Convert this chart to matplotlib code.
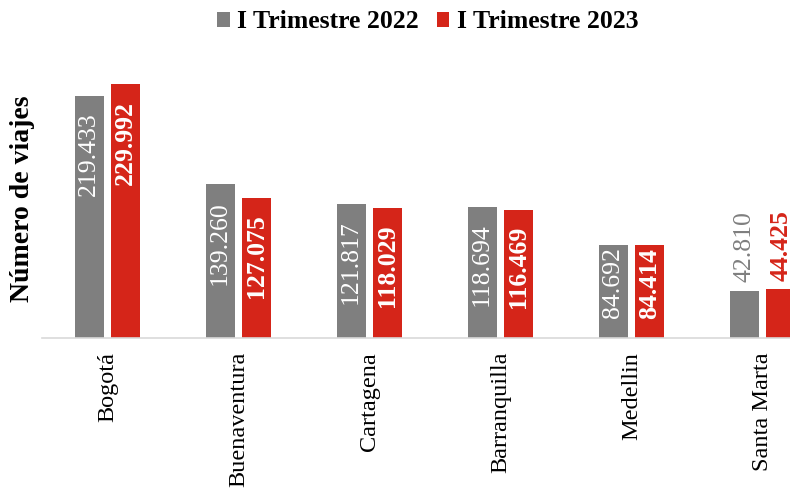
import matplotlib.pyplot as plt
import numpy as np

ciudades = ['Bogotá', 'Buenaventura', 'Cartagena', 'Barranquilla', 'Medellin', 'Santa Marta']
viajes_2022 = [219433, 139260, 121817, 118694, 84692, 42810]
viajes_2023 = [229992, 127075, 118029, 116469, 84414, 44425]
series = ['I Trimestre 2022', 'I Trimestre 2023']

gris = '#7f7f7f'
rojo = '#d52519'

plt.rcParams['font.family'] = ['Liberation Serif', 'DejaVu Serif']

fig = plt.figure(figsize=(7.9, 4.93), dpi=100)
ax = fig.add_axes([42/790, 155/493, 748/790, 278/493])

x = np.arange(len(ciudades))
w = 0.22
b1 = ax.bar(x - 0.14, viajes_2022, w, color=gris, label=series[0])
b2 = ax.bar(x + 0.14, viajes_2023, w, color=rojo, label=series[1])


def fmt(v):
    return f'{v:,}'.replace(',', '.')


for bars, vals, col, peso in [(b1, viajes_2022, gris, 'normal'), (b2, viajes_2023, rojo, 'bold')]:
    for rect, v in zip(bars, vals):
        cx = rect.get_x() + rect.get_width() / 2
        if v < 60000:
            # barra corta: etiqueta encima, en el color de la serie
            ax.annotate(fmt(v), (cx, v), xytext=(0, 6), textcoords='offset points',
                        rotation=90, ha='center', va='bottom', color=col,
                        fontsize=18.5, fontweight=peso)
        else:
            off = -12 if v > 100000 else -2
            ax.annotate(fmt(v), (cx, v), xytext=(0, off), textcoords='offset points',
                        rotation=90, ha='center', va='top', color='white',
                        fontsize=18.5, fontweight=peso)

ax.set_xlim(-0.5, -0.5 + 748/131)
ax.set_ylim(0, 252000)
ax.set_xticks(x)
ax.set_xticklabels(ciudades, rotation=90, fontsize=17.5, va='top')
ax.tick_params(axis='x', length=0, pad=10)
ax.set_yticks([])
for s in ['top', 'right', 'left']:
    ax.spines[s].set_visible(False)
ax.spines['bottom'].set_color('#d9d9d9')
ax.spines['bottom'].set_linewidth(1.2)

ax.set_ylabel('Número de viajes', fontsize=20, fontweight='bold', labelpad=5)

fig.legend(loc='center', bbox_to_anchor=(428/790, 1 - 22/493), ncol=2, frameon=False,
           prop={'size': 18.5, 'weight': 'bold'}, handlelength=0.48, handleheight=0.48,
           handletextpad=0.3, columnspacing=0.7)

fig.savefig('out.png', dpi=100)
